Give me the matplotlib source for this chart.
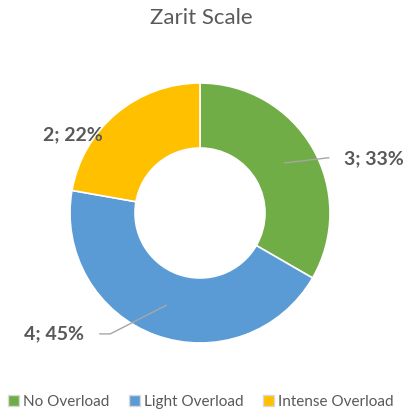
import matplotlib

matplotlib.use("Agg")
import matplotlib.pyplot as plt
from matplotlib.patches import Patch

categories = ["No Overload", "Light Overload", "Intense Overload"]
counts = [3, 4, 2]
pct_labels = ["33%", "45%", "22%"]
colors = ["#70AD47", "#5B9BD5", "#FFC000"]
GRAY = "#595959"

plt.rcParams["font.family"] = ["Lato", "DejaVu Sans"]

fig = plt.figure(figsize=(4.10, 4.09), dpi=100)
ax = fig.add_axes([70 / 410, (409 - 213 - 130) / 409, 260 / 410, 260 / 409])
wedges, _ = ax.pie(counts, colors=colors, startangle=90, counterclock=False,
                   radius=1.0, wedgeprops=dict(width=0.5, edgecolor="white", linewidth=1.2))
ax.set_xlim(-1, 1)
ax.set_ylim(-1, 1)
ax.set_aspect("equal")

# data labels with leader lines
lab = [f"{c}; {p}" for c, p in zip(counts, pct_labels)]
ax.plot([0.65, 0.99], [0.385, 0.425], color="#A6A6A6", lw=1, clip_on=False)
ax.text(1.11, 0.42, lab[0], ha="left", va="center", fontsize=14,
        fontweight="bold", color=GRAY, clip_on=False)
ax.plot([-0.26, -0.69, -0.77], [-0.71, -0.93, -0.93], color="#A6A6A6", lw=1, clip_on=False)
ax.text(-0.89, -0.925, lab[1], ha="right", va="center", fontsize=14,
        fontweight="bold", color=GRAY, clip_on=False)
ax.text(-0.98, 0.6, lab[2], ha="center", va="center", fontsize=14,
        fontweight="bold", color=GRAY, clip_on=False)

fig.text(0.49, 0.955, "Zarit Scale", ha="center", va="center", fontsize=16, color=GRAY)

handles = [Patch(facecolor=c, edgecolor="#D9D9D9") for c in colors]
fig.legend(handles, categories, loc="center", bbox_to_anchor=(0.49, 0.018), ncol=3,
           frameon=False, fontsize=11, labelcolor=GRAY, handlelength=0.7, handleheight=0.7,
           handletextpad=0.25, columnspacing=1.3)

fig.savefig("out.png", dpi=100)
